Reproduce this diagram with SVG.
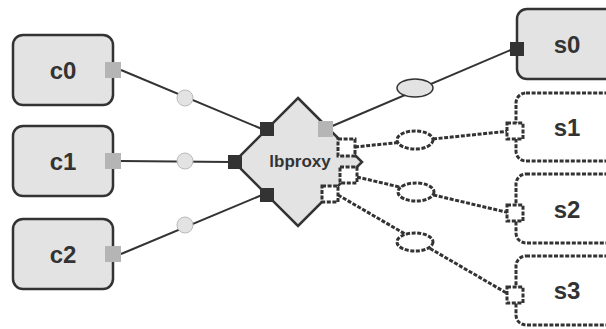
<svg xmlns="http://www.w3.org/2000/svg" width="606" height="329" viewBox="0 0 606 329">
<style>
.box{fill:#e3e3e3;stroke:#333;stroke-width:2.5}
.dbox{fill:#fff;stroke:#333;stroke-width:3;stroke-dasharray:4 1.6}
.lbl{font-family:"Liberation Sans",Arial,sans-serif;font-weight:bold;fill:#333;text-anchor:middle;dominant-baseline:central}
.gp{fill:#b5b5b5}
.bp{fill:#333}
.dp{fill:#fff;stroke:#333;stroke-width:3;stroke-dasharray:4 1.6}
.ln{stroke:#333;stroke-width:2;fill:none}
.dln{stroke:#333;stroke-width:3;fill:none;stroke-dasharray:4 1.6}
.dot{fill:#e3e3e3;stroke:#bbb;stroke-width:1}
.ell{fill:#e3e3e3;stroke:#333;stroke-width:1.5}
.dell{fill:#fff;stroke:#333;stroke-width:3;stroke-dasharray:4 1.6}
</style>
<g id="connectors">
<line class="ln" x1="121" y1="70" x2="262" y2="129"/>
<line class="ln" x1="121" y1="161" x2="230" y2="162"/>
<line class="ln" x1="121" y1="254" x2="262" y2="195"/>
<circle class="dot" cx="185" cy="98" r="8"/>
<circle class="dot" cx="185" cy="161" r="8"/>
<circle class="dot" cx="185" cy="225" r="8"/>
<line class="ln" x1="330" y1="127" x2="513" y2="49"/>
<ellipse class="ell" cx="415" cy="88" rx="18" ry="9"/>
<line class="dln" x1="355" y1="147" x2="510" y2="131"/>
<ellipse class="dell" cx="415" cy="140" rx="18" ry="9"/>
<line class="dln" x1="357" y1="177" x2="510" y2="213"/>
<ellipse class="dell" cx="416" cy="192" rx="18" ry="9"/>
<line class="dln" x1="338" y1="195" x2="510" y2="295"/>
<ellipse class="dell" cx="415" cy="242" rx="18" ry="9"/>
</g>
<g id="c0">
<rect class="box" x="13" y="35" width="100" height="70" rx="10"/>
<text class="lbl" x="63" y="70" font-size="24">c0</text>
<rect class="gp" x="105" y="62" width="16" height="16"/>
</g>
<g id="c1">
<rect class="box" x="13" y="126" width="100" height="70" rx="10"/>
<text class="lbl" x="63" y="161" font-size="24">c1</text>
<rect class="gp" x="105" y="153" width="16" height="16"/>
</g>
<g id="c2">
<rect class="box" x="13" y="219" width="100" height="70" rx="10"/>
<text class="lbl" x="63" y="254" font-size="24">c2</text>
<rect class="gp" x="105" y="246" width="16" height="16"/>
</g>
<g id="lbproxy">
<polygon class="box" points="298,98 362,162 298,226 234,162"/>
<text class="lbl" x="300" y="161" font-size="17">lbproxy</text>
<rect class="bp" x="260" y="122" width="14" height="14"/>
<rect class="bp" x="228" y="155" width="14" height="14"/>
<rect class="bp" x="260" y="188" width="14" height="14"/>
<rect class="gp" x="318" y="121" width="15" height="16"/>
<rect class="dp" x="338" y="139" width="17" height="17"/>
<rect class="dp" x="340" y="167" width="17" height="16"/>
<rect class="dp" x="322" y="186" width="16" height="16"/>
</g>
<g id="s0">
<rect class="box" x="517" y="9" width="100" height="70" rx="10"/>
<text class="lbl" x="567" y="44" font-size="24">s0</text>
<rect class="bp" x="510" y="42" width="14" height="14"/>
</g>
<g id="s1">
<rect class="dbox" x="516" y="93" width="100" height="68" rx="10"/>
<text class="lbl" x="567" y="127" font-size="24">s1</text>
<rect class="dp" x="507" y="123" width="16" height="16"/>
</g>
<g id="s2">
<rect class="dbox" x="516" y="174" width="100" height="69" rx="10"/>
<text class="lbl" x="567" y="209" font-size="24">s2</text>
<rect class="dp" x="507" y="205" width="16" height="16"/>
</g>
<g id="s3">
<rect class="dbox" x="516" y="256" width="100" height="69" rx="10"/>
<text class="lbl" x="567" y="290" font-size="24">s3</text>
<rect class="dp" x="507" y="287" width="16" height="16"/>
</g>
</svg>
